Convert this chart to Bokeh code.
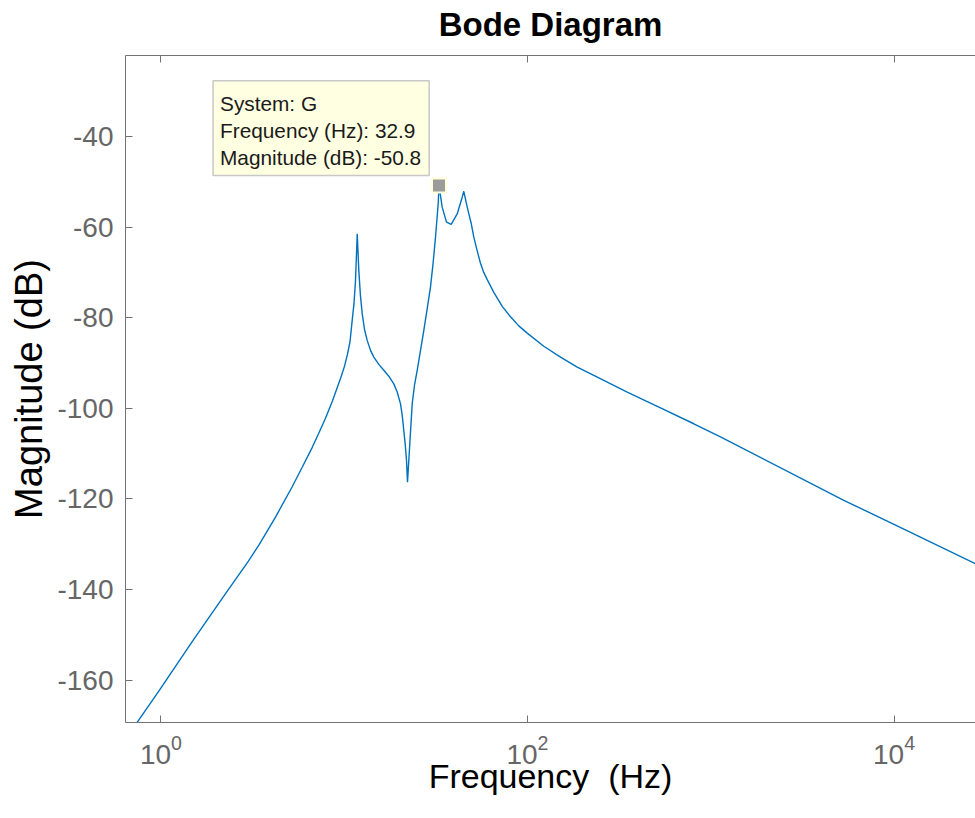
from bokeh.plotting import figure
from bokeh.models import FixedTicker, LogAxis, LogTickFormatter, Label, Range1d, ColumnDataSource
from bokeh.embed import file_html
from bokeh.resources import INLINE

# ---- data (frequency in Hz, magnitude in dB) ----
freq_hz = [0.741, 0.973, 1.48, 2.25, 3.0, 3.42, 4.216, 5.20, 5.895, 6.69, 7.26, 7.90,
           8.60, 9.54, 10.0, 10.38, 10.75, 11.05, 11.3, 11.52, 11.77, 12.01, 12.25,
           12.53, 12.90, 13.34, 13.91, 14.50, 15.44, 16.44, 17.5, 18.64, 19.45, 20.28,
           20.71, 21.13, 21.51, 21.87, 22.14, 22.62, 23.49, 24.17, 25.01, 26.07, 27.18,
           28.36, 29.56, 30.58, 31.48, 32.56, 32.9, 34.23, 36.14, 38.33, 41.33, 44.02,
           44.91, 46.88, 49.3, 50.93, 53.2, 55.40, 57.7, 60.3, 65.49, 72.8, 80.77, 89.6,
           99.6, 122.7, 151.4, 186.8, 230.0, 350.0, 531.9, 808.3, 1130.0, 5322.0,
           10000.0, 27840.0]
mag_db = [-169.3, -162.4, -151.5, -140.9, -133.7, -130.2, -124.0, -117.3, -113.0, -108.6,
          -105.5, -102.2, -98.5, -93.4, -90.9, -88.3, -85.3, -80.6, -76.9, -71.8, -61.5,
          -69.6, -75.0, -79.1, -82.6, -85.0, -87.2, -88.7, -90.3, -91.6, -92.9, -94.6,
          -96.4, -99.0, -101.5, -104.9, -107.9, -111.5, -116.3, -110.0, -99.0, -94.9,
          -91.6, -87.2, -82.8, -78.0, -73.2, -67.7, -62.2, -54.8, -50.8, -55.6, -58.9,
          -59.4, -57.1, -53.4, -52.1, -55.6, -59.2, -62.2, -65.3, -68.0, -70.0, -71.6,
          -74.4, -77.5, -79.8, -81.8, -83.4, -86.3, -88.7, -90.9, -92.7, -96.4, -99.9,
          -103.4, -106.3, -120.3, -125.6, -134.3]

tip_system = "G"
tip_freq = [32.9]
tip_mag = [-50.8]

title_text = "Bode Diagram"
x_label = "Frequency \u00a0(Hz)"
y_label = "Magnitude (dB)"
x_ticks = [1, 100, 10000]
y_ticks = [-160, -140, -120, -100, -80, -60, -40]

AX_COL = "#737373"
TICK_LBL = "#666666"
FONT = "Liberation Sans"

X0, X1 = 10 ** -0.1937, 10 ** 4.4447
Y0, Y1 = -169.33, -22.13

p = figure(width=975, height=818, x_axis_type="log",
           x_range=Range1d(X0, X1), y_range=Range1d(Y0, Y1),
           output_backend="svg", toolbar_location=None,
           min_border_left=125, min_border_right=0,
           min_border_top=55, min_border_bottom=96)

p.grid.visible = False
p.outline_line_color = None
p.background_fill_color = "white"
p.border_fill_color = "white"

# bottom axis
xa = p.xaxis[0]
xa.ticker = FixedTicker(ticks=x_ticks)
xa.formatter = LogTickFormatter()
xa.major_tick_in = 7
xa.major_tick_out = 0
xa.minor_tick_line_color = None
xa.axis_line_color = AX_COL
xa.major_tick_line_color = AX_COL
xa.major_label_text_color = TICK_LBL
xa.major_label_text_font = FONT
xa.major_label_text_font_size = "28px"
xa.major_label_standoff = 12
xa.axis_label = x_label
xa.axis_label_text_font = FONT
xa.axis_label_text_font_size = "34px"
xa.axis_label_text_font_style = "normal"
xa.axis_label_text_color = "black"
xa.axis_label_standoff = -10

# left axis
ya = p.yaxis[0]
ya.ticker = FixedTicker(ticks=y_ticks)
ya.major_label_overrides = {t: str(t) for t in y_ticks}
ya.major_tick_in = 7
ya.major_tick_out = 0
ya.minor_tick_line_color = None
ya.axis_line_color = AX_COL
ya.major_tick_line_color = AX_COL
ya.major_label_text_color = TICK_LBL
ya.major_label_text_font = FONT
ya.major_label_text_font_size = "28px"
ya.major_label_standoff = 12
ya.axis_label = y_label
ya.axis_label_text_font = FONT
ya.axis_label_text_font_size = "38px"
ya.axis_label_text_font_style = "normal"
ya.axis_label_text_color = "black"
ya.axis_label_standoff = 4

# top edge of the box with inward ticks; it also carries the title
top = LogAxis(ticker=FixedTicker(ticks=x_ticks), major_tick_in=7, major_tick_out=0,
              minor_tick_line_color=None, axis_line_color=AX_COL,
              major_tick_line_color=AX_COL, major_label_text_font_size="0px",
              major_label_standoff=0)
top.major_label_overrides = {t: "" for t in x_ticks}
top.axis_label = title_text
top.axis_label_text_font = FONT
top.axis_label_text_font_size = "33px"
top.axis_label_text_font_style = "bold"
top.axis_label_text_color = "black"
top.axis_label_standoff = 13
p.add_layout(top, "above")

src = ColumnDataSource(dict(f=freq_hz, m=mag_db))
p.line("f", "m", source=src, line_color="#0072BD", line_width=1.4)

# data tip
p.scatter(tip_freq, tip_mag, marker="square", size=14, fill_color="#9b9b9b",
          line_color="#ffffd8", line_width=2)
tip_text = "System: %s\nFrequency (Hz): %.1f\nMagnitude (dB): %.1f" % (tip_system, tip_freq[0], tip_mag[0])
tip = Label(x=tip_freq[0], y=tip_mag[0], x_offset=-226, y_offset=104.7,
            text=tip_text, text_font=FONT, text_font_size="20.8px", text_color="#1a1a1a",
            text_align="left", text_baseline="top", text_line_height=1.17,
            background_fill_color="#ffffe1", border_line_color="#c8c8c8",
            border_line_width=1.5, padding=(7, 8, 11, 7))
p.add_layout(tip)

open("out.html", "w").write(file_html(p, INLINE))
